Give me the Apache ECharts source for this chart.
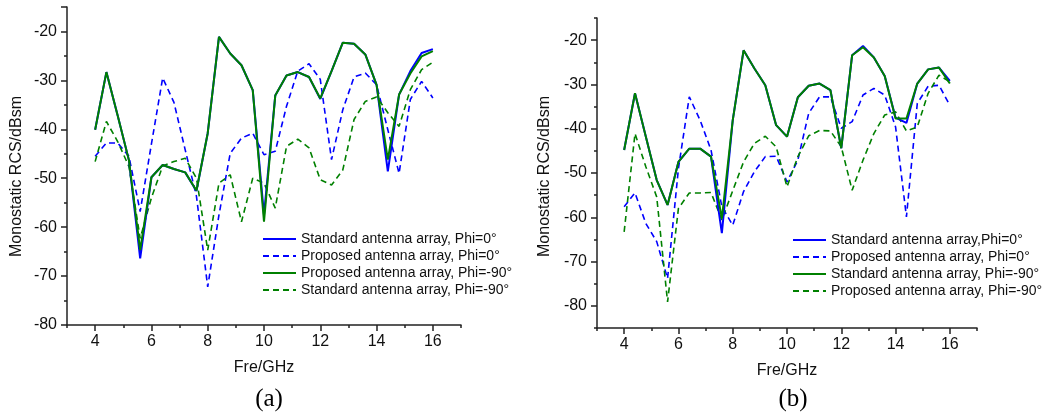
<!DOCTYPE html>
<html><head><meta charset="utf-8">
<script src="https://cdn.jsdelivr.net/npm/echarts@6/dist/echarts.min.js"></script>
<style>
html,body{margin:0;padding:0;background:#fff;width:1052px;height:415px;overflow:hidden}
#a{position:absolute;left:0;top:0;width:526px;height:415px}
#b{position:absolute;left:526px;top:0;width:526px;height:415px}
</style>
</head><body><div id="a"></div><div id="b"></div>
<script>
// Frequency samples (GHz)
const freq = [4,4.4,4.8,5.2,5.6,6,6.4,6.8,7.2,7.6,8,8.4,8.8,9.2,9.6,10,10.4,10.8,11.2,11.6,12,12.4,12.8,13.2,13.6,14,14.4,14.8,15.2,15.6,16];
const xTicks = [4,6,8,10,12,14,16];

// Chart (a)
const aNames = ['Standard antenna array, Phi=0°','Proposed antenna array, Phi=0°','Proposed antenna array, Phi=-90°','Standard antenna array, Phi=-90°'];
const aYTicks = [-80,-70,-60,-50,-40,-30,-20];
const aStdPhi0  = [-40.1,-28.3,-37.2,-46.3,-66.4,-49.8,-47.3,-48.1,-48.8,-52.6,-40.8,-21.1,-24.5,-26.9,-32.0,-57.5,-33.1,-29.0,-28.3,-29.3,-33.8,-28.1,-22.3,-22.5,-24.7,-30.9,-48.6,-32.9,-28.1,-24.4,-23.6];
const aPropPhi0 = [-45.5,-42.8,-42.8,-45.5,-56.8,-43.0,-29.5,-34.5,-44.2,-53.7,-72.2,-57.5,-44.9,-41.8,-40.8,-45.2,-44.5,-35.3,-28.1,-26.6,-29.8,-46.2,-36.0,-29.3,-28.5,-30.9,-40.1,-49.0,-33.9,-30.2,-33.6];
const aPropPhi90= [-40.1,-28.3,-37.2,-46.3,-64.7,-49.8,-47.3,-48.1,-48.8,-52.5,-40.8,-21.1,-24.5,-26.9,-32.0,-58.9,-33.1,-29.0,-28.3,-29.3,-33.7,-28.1,-22.3,-22.5,-24.7,-30.9,-46.2,-32.9,-28.6,-25.1,-24.0];
const aStdPhi90 = [-46.6,-38.4,-42.5,-47.6,-62.3,-54.0,-47.5,-46.6,-45.9,-50.0,-64.7,-51.0,-49.3,-58.9,-50.0,-51.0,-56.1,-43.5,-42.0,-43.8,-50.3,-51.4,-48.3,-38.0,-34.3,-33.4,-36.6,-39.4,-31.9,-27.8,-26.3];

// Chart (b)
const bNames = ['Standard antenna array,Phi=0°','Proposed antenna array, Phi=0°','Standard antenna array, Phi=-90°','Proposed antenna array, Phi=-90°'];
const bYTicks = [-80,-70,-60,-50,-40,-30,-20];
const bStdPhi0  = [-44.8,-32.0,-41.8,-51.6,-57.2,-47.5,-44.5,-44.5,-46.3,-63.6,-38.1,-22.3,-26.4,-30.2,-39.2,-41.8,-32.9,-30.3,-29.8,-31.3,-44.4,-23.4,-21.3,-23.9,-28.1,-37.5,-38.7,-29.8,-26.6,-26.2,-29.2];
const bPropPhi0 = [-57.6,-54.5,-61.4,-65.5,-73.8,-49.0,-32.8,-38.1,-44.8,-57.6,-61.8,-54.2,-49.7,-46.3,-46.2,-52.0,-47.1,-36.5,-32.8,-32.8,-39.9,-38.4,-32.4,-30.9,-32.4,-39.6,-59.9,-34.3,-30.4,-30.2,-34.7];
const bStdPhi90 = [-44.8,-32.0,-41.8,-51.6,-57.2,-47.5,-44.5,-44.5,-46.3,-60.3,-38.1,-22.3,-26.4,-30.2,-39.2,-41.8,-32.9,-30.3,-29.8,-31.3,-44.4,-23.4,-21.6,-23.9,-28.1,-37.7,-37.7,-29.8,-26.6,-26.2,-29.8];
const bPropPhi90= [-63.3,-41.1,-48.6,-55.4,-79.1,-58.0,-54.5,-54.5,-54.4,-60.6,-54.0,-47.5,-43.3,-41.7,-44.1,-53.1,-46.3,-41.6,-40.4,-40.5,-44.1,-53.9,-47.1,-41.1,-36.9,-36.2,-40.5,-39.6,-32.0,-27.9,-29.4];

const BLUE = '#0000ff', GREEN = '#008000';
const FONT = 'Liberation Sans, Arial, sans-serif';
const AX = '#222';
const AXFS = 16;

function pairs(vals){ return freq.map((f,i)=>[f, vals[i]]); }

function lineSeries(name, vals, color, dashed, z){
  return {
    name, type:'line', data: pairs(vals), symbol:'none', z,
    xAxisIndex:0, yAxisIndex:0,
    lineStyle:{color, width: dashed?1.6:2, type: dashed?[6,4]:'solid'},
    itemStyle:{color}, animation:false
  };
}

const tickStyle = {color:AX, width:1.5};

// Ticks are counted from min: with min=3 and interval=2 the majors land on odd values
// (short ticks) and the minor midpoints land on the labelled even values (long ticks).
function xAxes(cfg){
  return [
    {
      type:'value', min:3, max:17, interval:2, position:'bottom',
      name:'Fre/GHz', nameLocation:'middle', nameGap:cfg.xNameGap,
      nameTextStyle:{fontFamily:FONT, fontSize:AXFS, color:'#111'},
      axisLine:{lineStyle:tickStyle},
      axisTick:{show:true, length:3, lineStyle:tickStyle},
      minorTick:{show:true, splitNumber:2, length:6, lineStyle:tickStyle},
      splitLine:{show:false}, minorSplitLine:{show:false},
      axisLabel:{show:false}
    },
    {
      type:'value', min:3, max:17, interval:1, position:'bottom', offset:0,
      axisLine:{show:false}, axisTick:{show:false}, splitLine:{show:false},
      axisLabel:{fontFamily:FONT, fontSize:AXFS, color:'#111', margin:9,
        formatter:v=> (xTicks.includes(v) ? String(v) : '')}
    }
  ];
}

function yAxes(cfg){
  const offsetStart = (cfg.ymin % 10) !== 0; // e.g. -85
  return [
    {
      type:'value', min:cfg.ymin, max:-15, interval:10, position:'left',
      name:'Monostatic RCS/dBsm', nameLocation:'middle', nameGap:cfg.yNameGap, nameRotate:90,
      nameTextStyle:{fontFamily:FONT, fontSize:AXFS, color:'#111', padding:[0, cfg.yNamePad, 0, 0]},
      axisLine:{show:true, lineStyle:tickStyle},
      axisTick:{show:true, length: offsetStart?3:6, lineStyle:tickStyle},
      minorTick:{show:true, splitNumber:2, length: offsetStart?6:3, lineStyle:tickStyle},
      splitLine:{show:false}, minorSplitLine:{show:false},
      axisLabel:{show:false}
    },
    {
      type:'value', min:cfg.ymin, max:-15, interval:5, position:'left', offset:0,
      axisLine:{show:false}, axisTick:{show:false}, splitLine:{show:false},
      axisLabel:{fontFamily:FONT, fontSize:AXFS, color:'#111', margin:10,
        formatter:v=> (cfg.yTicks.includes(v) ? String(v) : '')}
    }
  ];
}

function makeOption(cfg){
  return {
    animation:false,
    textStyle:{fontFamily:FONT},
    grid:{left:cfg.grid[0], top:cfg.grid[1], width:cfg.grid[2], height:cfg.grid[3]},
    title:{text:cfg.caption, left:cfg.capX, top:cfg.capY, textAlign:'center',
      textStyle:{fontFamily:'Liberation Serif, Times New Roman, serif', fontSize:25, fontWeight:'normal', color:'#000'}},
    legend:{
      data: cfg.names, orient:'vertical', left:cfg.leg[0], top:cfg.leg[1],
      itemWidth:33, itemHeight:14, itemGap:3, padding:0,
      itemStyle:{opacity:0},
      textStyle:{fontFamily:FONT, fontSize:14, color:'#111'}
    },
    xAxis: xAxes(cfg),
    yAxis: yAxes(cfg),
    series: cfg.series
  };
}

const chartA = echarts.init(document.getElementById('a'), null, {renderer:'canvas'});
chartA.setOption(makeOption({
  grid:[67,7,394,318], caption:'(a)', capX:264, capY:382, leg:[262,232],
  xNameGap:35, yNameGap:42, yNamePad:21, ymin:-80, yTicks:aYTicks, names:aNames,
  series:[
    lineSeries(aNames[1], aPropPhi0, BLUE, true, 2),
    lineSeries(aNames[3], aStdPhi90, GREEN, true, 3),
    lineSeries(aNames[0], aStdPhi0, BLUE, false, 4),
    lineSeries(aNames[2], aPropPhi90, GREEN, false, 5)
  ]
}));

const chartB = echarts.init(document.getElementById('b'), null, {renderer:'canvas'});
chartB.setOption(makeOption({
  grid:[71,18,380,310], caption:'(b)', capX:262, capY:382, leg:[266,233],
  xNameGap:35, yNameGap:44, yNamePad:7, ymin:-85, yTicks:bYTicks, names:bNames,
  series:[
    lineSeries(bNames[1], bPropPhi0, BLUE, true, 2),
    lineSeries(bNames[3], bPropPhi90, GREEN, true, 3),
    lineSeries(bNames[0], bStdPhi0, BLUE, false, 4),
    lineSeries(bNames[2], bStdPhi90, GREEN, false, 5)
  ]
}));
</script>
</body></html>
